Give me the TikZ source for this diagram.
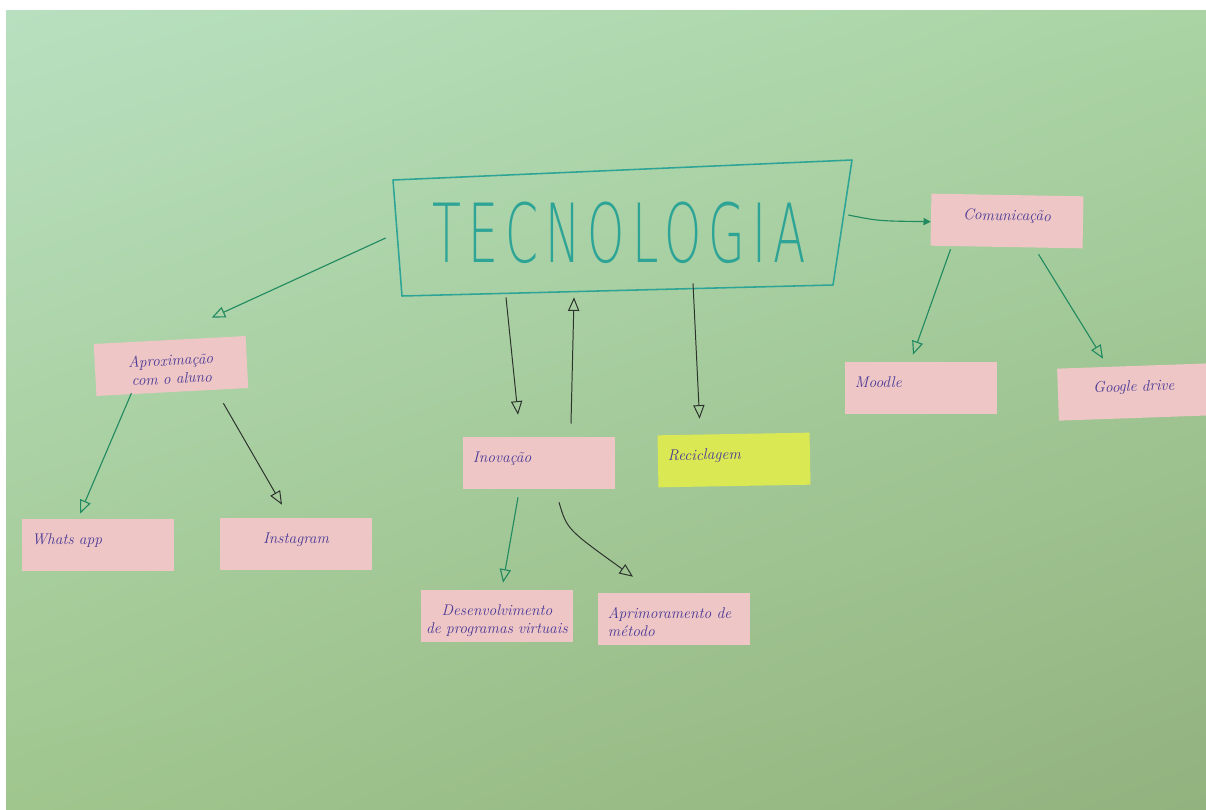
\documentclass[tikz,border=0pt]{standalone}
\usepackage{fontspec}
\newfontfamily\tecfont[LetterSpace=15]{DejaVuSans-ExtraLight.ttf}
\usetikzlibrary{arrows.meta,calc,shadings}
\definecolor{paperTL}{RGB}{184,224,192}
\definecolor{paperTR}{RGB}{170,212,164}
\definecolor{paperBL}{RGB}{160,198,142}
\definecolor{paperBR}{RGB}{146,178,126}
\definecolor{pinknote}{RGB}{238,198,198}
\definecolor{yellownote}{RGB}{218,232,84}
\definecolor{ink}{RGB}{72,56,150}
\definecolor{tealpen}{RGB}{46,164,150}
\definecolor{greenpen}{RGB}{34,138,96}
\definecolor{blackpen}{RGB}{44,50,44}

\begin{document}
\begin{tikzpicture}[x=0.025cm, y=-0.025cm,
  note/.style={fill=pinknote, text=ink, font=\fontsize{11}{13}\selectfont\itshape,
    text width=3.3cm, align=left, inner xsep=0.25cm, minimum height=1.3cm, text depth=0.3cm},
  recnote/.style={note, fill=yellownote},
  tecword/.style={minimum width=11cm, minimum height=2.9cm, text=tealpen,
    font=\tecfont\fontsize{58}{58}\selectfont},
  garr/.style={-{Triangle[open, length=3.4mm, width=2.8mm]}, line width=0.8pt, greenpen},
  barr/.style={-{Triangle[open, length=3.4mm, width=2.8mm]}, line width=0.7pt, blackpen}]
\useasboundingbox (0,0) rectangle (1206,810);
\fill[white] (0,0) rectangle (1206,810);
\shade[upper left=paperTL, upper right=paperTR, lower left=paperBL, lower right=paperBR]
  (6,10) rectangle (1206,810);

% centre word and its hand-drawn frame
\node[tecword] (tec) at (619,233) {\scalebox{0.58}[1]{TECNOLOGIA}};
\draw[tealpen, line width=1.1pt, line join=round]
  (393,180) -- (852,160) -- (833,285) -- (402,296) -- cycle;

% sticky notes
\node[note, align=center, rotate=3] (apx) at (171,366) {Aproximação\\com o aluno};
\node[note] (wha) at (98,545) {Whats app};
\node[note, align=center] (ins) at (296,544) {Instagram};
\node[note] (inov) at (539,463) {Inovação};
\node[recnote, rotate=1] (rec) at (734,460) {Reciclagem};
\node[note, align=center, text width=3.6cm, inner xsep=0.1cm] (des) at (497,616)
  {Desenvolvimento\\de programas virtuais};
\node[note] (apr) at (674,619) {Aprimoramento de\\método};
\node[note, align=center, rotate=-1] (com) at (1007,221) {Comunicação};
\node[note] (moo) at (921,388) {Moodle};
\node[note, align=center, rotate=2] (goo) at (1134,392) {Google drive};

% links out of the frame
\draw[garr] ($(tec.west)+(-13,5)$) -- ($(apx.north)+(42,-22)$);
\draw[greenpen, line width=0.8pt, -{Triangle[length=1.8mm, width=1.8mm]}]
  ($(tec.east)+(9,-18)$) .. controls ($(tec.east)+(39,-12)$) .. ($(com.west)+(0,2)$);
\draw[barr] ($(tec.south)+(-113,6)$) -- ($(inov.north)+(-21,-22)$);
\draw[barr] ($(inov.north)+(32,-13)$) -- ($(tec.south)+(-45,6)$);
\draw[barr] ($(tec.south)+(74,-8)$) -- ($(rec.north)+(-34,-15)$);

% second level
\draw[garr] ($(apx.south)+(-41,1)$) -- ($(wha.north)+(-18,-5)$);
\draw[barr] ($(apx.south)+(51,11)$) -- ($(ins.north)+(-14,-13)$);
\draw[garr] ($(inov.south)+(-21,8)$) -- ($(des.north)+(6,-7)$);
\draw[barr] ($(inov.south)+(20,13)$) .. controls ($(inov.south)+(28,40)$) .. ($(apr.north)+(-41,-16)$);
\draw[garr] ($(com.south)+(-56,2)$) -- ($(moo.north)+(-8,-7)$);
\draw[garr] ($(com.south)+(32,7)$) -- ($(goo.north)+(-30,-7)$);
\end{tikzpicture}
\end{document}
